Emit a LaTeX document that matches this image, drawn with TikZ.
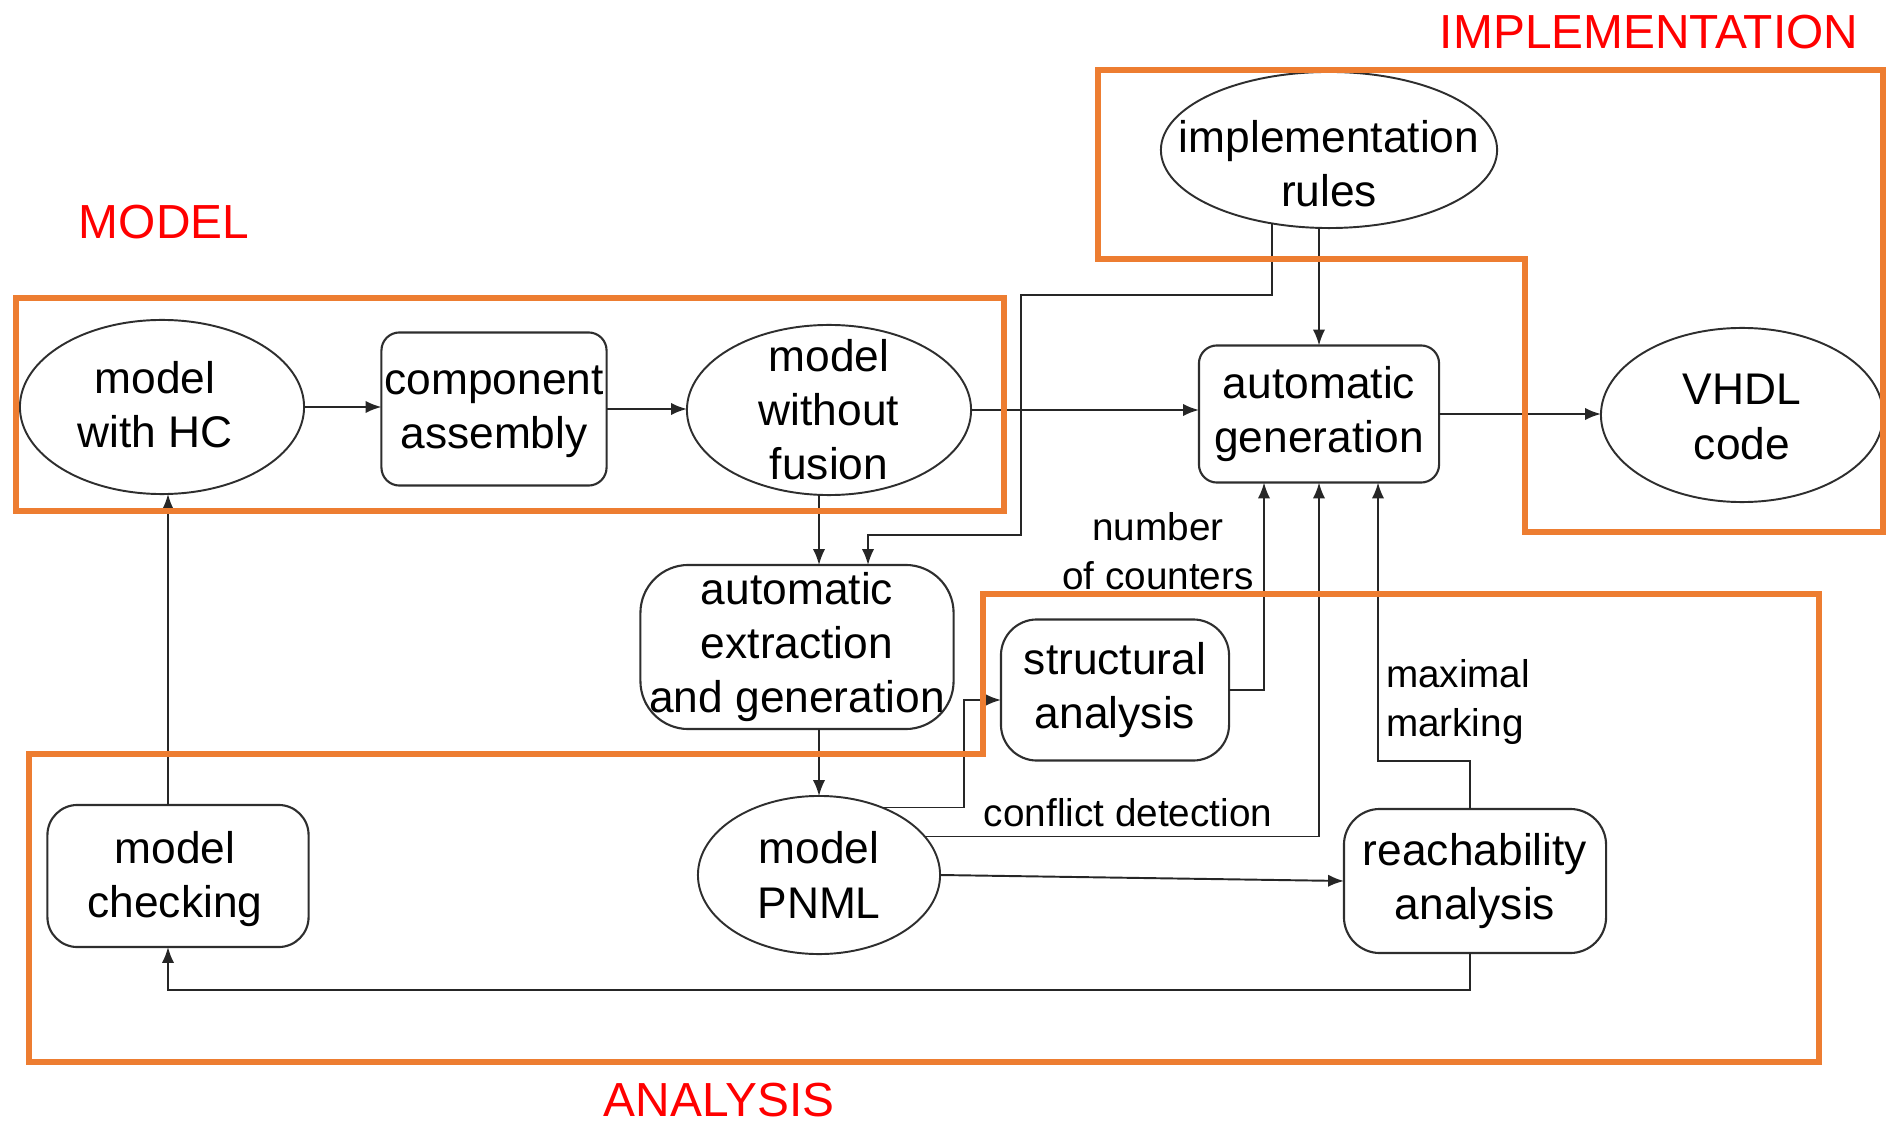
\documentclass[tikz,border=0pt]{standalone}
\usepackage{fontspec}
\setmainfont{Liberation Sans}
\usetikzlibrary{shapes.geometric,arrows.meta,calc}
\definecolor{frameorange}{HTML}{ED7D31}
\definecolor{inkgray}{HTML}{2E2E2E}

\begin{document}
\begin{tikzpicture}[x=0.01cm,y=-0.01cm,
  every node/.style={inner sep=0pt,outer sep=0pt},
  nodefont/.style={font=\fontsize{12.6}{15.4}\selectfont},
  oval/.style={ellipse,draw=inkgray,line width=0.55pt,nodefont,align=center,inner sep=-1cm},
  ovaltext/.style={nodefont,align=center},
  rbox/.style={rectangle,rounded corners=#1,draw=inkgray,line width=0.6pt,nodefont,align=center},
  edgelabel/.style={font=\fontsize{11}{14}\selectfont,align=center},
  areatitle/.style={font=\fontsize{13.6}{16}\selectfont,text=red},
  frame/.style={draw=frameorange,line width=1.45pt},
  arr/.style={draw=black!85,line width=0.55pt,-{Latex[length=4.5pt,width=3.5pt]}}]

\useasboundingbox (0,0) rectangle (1886,1122);

% ---- nodes ----
\node[oval,minimum width=2.84cm,minimum height=1.74cm] (hc) at (162,407) {};
\node[ovaltext] (hctext) at (155,405) {model\\with HC};
\node[rbox=0.18cm,minimum width=2.25cm,minimum height=1.53cm] (ca) at (494,409) {};
\node[ovaltext] (catext) at (494,412) {component\\assembly};
\node[oval,minimum width=2.84cm,minimum height=1.70cm] (mwf) at (829,410) {model\\without\\fusion};
\node[oval,minimum width=3.36cm,minimum height=1.56cm] (ir) at (1329,150) {};
\node[ovaltext] (irtext) at (1329,164) {implementation\\rules};
\node[rbox=0.18cm,minimum width=2.40cm,minimum height=1.37cm] (ag) at (1319,414) {automatic\\generation};
\node[oval,minimum width=2.82cm,minimum height=1.74cm] (vh) at (1742,415) {};
\node[ovaltext] (vhtext) at (1742,417) {VHDL\\code};
\node[rbox=0.48cm,minimum width=3.13cm,minimum height=1.64cm] (ae) at (797,647) {automatic\\extraction\\and generation};
\node[rbox=0.36cm,minimum width=2.28cm,minimum height=1.41cm] (sa) at (1115,690) {structural\\analysis};
\node[rbox=0.30cm,minimum width=2.61cm,minimum height=1.42cm] (mc) at (178,876) {};
\node[ovaltext] (mctext) at (175,879) {model\\checking};
\node[oval,minimum width=2.42cm,minimum height=1.58cm] (pnml) at (819,875) {model\\PNML};
\node[rbox=0.36cm,minimum width=2.62cm,minimum height=1.44cm] (ra) at (1475,881) {reachability\\analysis};

% ---- bend points ----
\coordinate (irbend) at (1021,295);
\coordinate (aein) at (868,535);
\coordinate (pbend) at (964,700);
\coordinate (mmbend) at (1378,761);
\coordinate (back) at (168,990);

% ---- connectors ----
\draw[arr] (hc.east) -- (ca.west |- hc.east);
\draw[arr] (ca.east) -- (mwf.west |- ca.east);
\draw[arr] (mwf.east) -- (ag.west |- mwf.east);
\draw[arr] (ag.east) -- (vh.west |- ag.east);
\draw[arr] (ir.south -| ag.north) -- (ag.north);
\draw[arr] (ir.-128) |- (irbend) |- (aein) -- (aein |- ae.north);
\draw[arr] (mwf.south -| pnml.north) -- (ae.north -| pnml.north);
\draw[arr] (ae.south -| pnml.north) -- (pnml.north);
\draw[arr] (pnml.47) -| (pbend) -- (pbend -| sa.west);
\draw[arr] (sa.east) -| ($(ag.south)+(-55,0)$);
\draw[arr] (pnml.20) -| (ag.south);
\draw[arr] (ra.north -| 1470,0) |- (mmbend) -- (mmbend |- ag.south);
\draw[arr] (pnml.east) -- (ra.west);
\draw[arr] (ra.south -| 1470,0) |- (back) -- (back |- mc.south);
\draw[arr] (back |- mc.north) -- (back |- hc.south);

% ---- connector labels ----
\node[edgelabel] (lnc) at (1158,551) {number\\of counters};
\node[edgelabel,align=left,anchor=west] (lmm) at (1386,702) {maximal\\marking};
\node[edgelabel] (lcd) at (1128,813) {conflict detection};

% ---- area frames ----
\draw[frame] (16,298) rectangle (1004,511);
\draw[frame] (1098,70) -- (1883,70) -- (1883,532) -- (1525,532) -- (1525,259) -- (1098,259) -- cycle;
\draw[frame] (983,594) -- (1819,594) -- (1819,1062) -- (29,1062) -- (29,754) -- (983,754) -- cycle;

% ---- area titles ----
\node[areatitle] (tmodel) at (164,222) {MODEL};
\node[areatitle] (timpl) at (1649,32) {IMPLEMENTATION};
\node[areatitle] (tana) at (719,1100) {ANALYSIS};
\end{tikzpicture}
\end{document}
